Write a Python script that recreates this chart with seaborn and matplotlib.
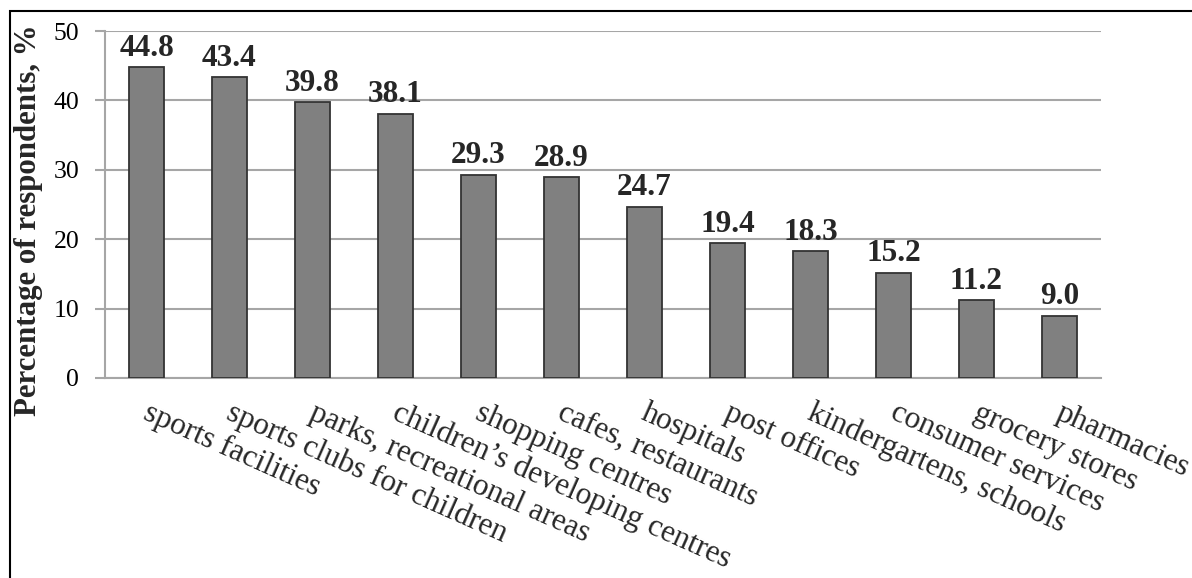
import matplotlib
matplotlib.use("Agg")
import matplotlib.pyplot as plt
import matplotlib.transforms as mtransforms
from matplotlib.patches import Rectangle
import seaborn as sns
import pandas as pd

# Share of respondents naming each facility
categories = [
    "sports facilities",
    "sports clubs for children",
    "parks, recreational areas",
    "children\u2019s developing centres",
    "shopping centres",
    "cafes, restaurants",
    "hospitals",
    "post offices",
    "kindergartens, schools",
    "consumer services",
    "grocery stores",
    "pharmacies",
]
percentages = [44.8, 43.4, 39.8, 38.1, 29.3, 28.9, 24.7, 19.4, 18.3, 15.2, 11.2, 9.0]
y_ticks = [0, 10, 20, 30, 40, 50]

df = pd.DataFrame({"facility": categories, "share": percentages})

sns.set_theme(style="white")
plt.rcParams["font.family"] = ["Liberation Serif", "DejaVu Serif"]

fig = plt.figure(figsize=(11.92, 5.78), dpi=100)
ax = fig.add_axes([105 / 1192, 1 - 378 / 578, 996 / 1192, 347 / 578])

sns.barplot(
    data=df, x="facility", y="share", ax=ax,
    color="#808080", saturation=1, width=0.41,
    edgecolor="#333333", linewidth=1.3, zorder=3,
)

ax.set_ylim(0, 50)
ax.set_xlim(-0.5, len(categories) - 0.5)
ax.set_yticks(y_ticks)
ax.set_yticklabels([str(t) for t in y_ticks], fontsize=18.5)
ax.yaxis.grid(True, color="#a6a6a6", linewidth=1.5, zorder=0)
ax.set_axisbelow(True)

for side in ("top", "right"):
    ax.spines[side].set_visible(False)
for side in ("left", "bottom"):
    ax.spines[side].set_color("#a6a6a6")
    ax.spines[side].set_linewidth(1.5)

ax.tick_params(axis="y", which="both", left=True, length=7, width=1.5,
               color="#a6a6a6", pad=11.5, labelcolor="black")
ax.tick_params(axis="x", bottom=False, pad=13)

# Slanted category labels, anchored at their upper-left corner
offset = mtransforms.ScaledTranslation(4 / 100, 6 / 100, fig.dpi_scale_trans)
for lbl in ax.get_xticklabels():
    lbl.set_rotation(-24)
    lbl.set_ha("left")
    lbl.set_va("top")
    lbl.set_rotation_mode("anchor")
    lbl.set_fontsize(22.5)
    lbl.set_transform(lbl.get_transform() + offset)

ax.set_xlabel("")
ax.set_ylabel("")

# Value labels above each bar
for container in ax.containers:
    ax.bar_label(container, labels=[f"{v:.1f}" for v in percentages],
                 padding=3, fontsize=22.5, fontweight="bold")

fig.text(29 / 1192, 1 - 220 / 578, "Percentage of respondents, %",
         rotation=90, ha="center", va="center",
         fontsize=22.2, fontweight="bold")

# Frame line around the figure
fig.patches.append(Rectangle((10 / 1192, -0.1), 1.2, 1 - 11 / 578 + 0.1,
                             transform=fig.transFigure, fill=False,
                             edgecolor="black", linewidth=1.5))

fig.savefig("out.png", dpi=100)
